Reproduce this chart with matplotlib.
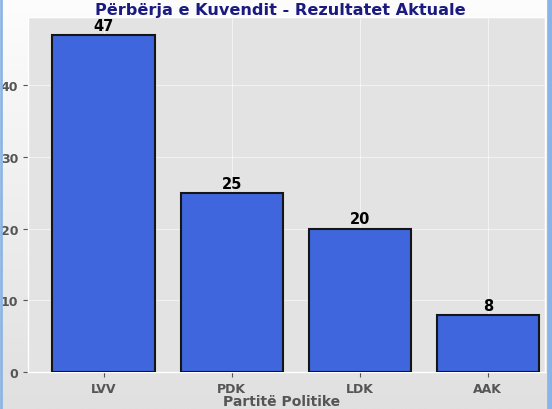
import matplotlib
matplotlib.use("Agg")
import matplotlib.pyplot as plt
import numpy as np
from matplotlib.patches import Rectangle

parties = ["LVV", "PDK", "LDK", "AAK"]
seats = [47, 25, 20, 8]
title = "Përbërja e Kuvendit - Rezultatet Aktuale"
xlabel = "Partitë Politike"

plt.style.use("ggplot")
fig = plt.figure(figsize=(5.52, 4.10), dpi=100, facecolor="#f4f4f4")

# soft background gradient of the screenshot
bg = fig.add_axes([0, 0, 1, 1], zorder=-10)
grad = np.linspace(0, 1, 256).reshape(-1, 1)
bg.imshow(grad, aspect="auto", cmap=matplotlib.colors.LinearSegmentedColormap.from_list(
    "g", ["#fdfdfd", "#e0e0e0"]), extent=[0, 1, 0, 1], origin="upper")
bg.set_axis_off()

ax = fig.add_axes([0.051, 0.090, 0.937, 0.866])
ax.set_facecolor("#e3e3e3")

x = list(range(len(parties)))
ax.bar(x, seats, width=0.8, color="#3f66dc", edgecolor="#151515", linewidth=1.5, zorder=3)
for xi, v in zip(x, seats):
    ax.text(xi, v + 0.3, str(v), ha="center", va="bottom", fontsize=10.5,
            fontweight="bold", color="black", zorder=4)

ax.set_xticks(x)
ax.set_xticklabels(parties, fontsize=9, fontweight="bold", color="#555555")
ax.set_yticks([0, 10, 20, 30, 40])
ax.tick_params(axis="y", labelsize=9, labelcolor="#555555")
for lab in ax.get_yticklabels():
    lab.set_fontweight("bold")
ax.set_xlim(-0.59, 3.45)
ax.set_ylim(0, 49.5)
ax.grid(True, color="white", linewidth=0.8, alpha=0.55, zorder=0)
ax.set_xlabel(xlabel, fontsize=10, fontweight="bold", color="#555555")
ax.xaxis.set_label_coords(0.49, -0.062)
fig.text(0.508, 0.975, title, ha="center", va="center", fontsize=11.6,
         fontweight="bold", color="#1a1a80")

fig.patches.append(Rectangle((0, 0), 0.004, 1, transform=fig.transFigure,
                             color="#8ab4e8", zorder=10))
fig.patches.append(Rectangle((0.991, 0), 0.009, 1, transform=fig.transFigure,
                             color="#8ab4e8", zorder=10))
fig.savefig("out.png", dpi=100, facecolor=fig.get_facecolor())
